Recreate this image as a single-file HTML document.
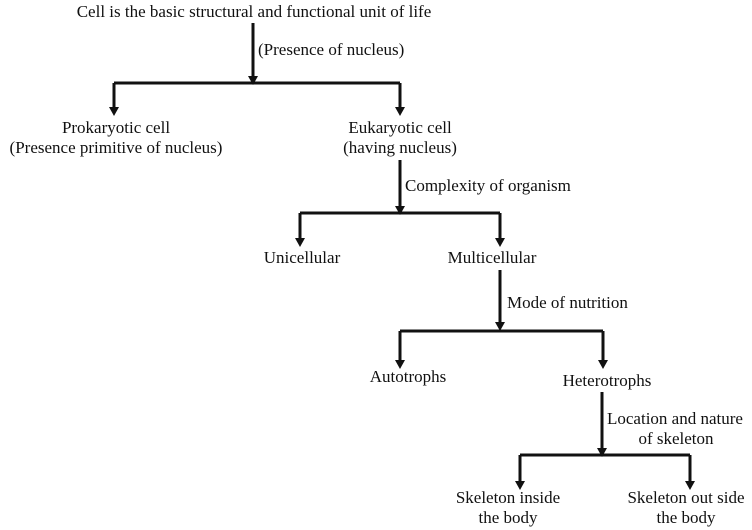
<!DOCTYPE html>
<html><head><meta charset="utf-8"><style>
html,body{margin:0;padding:0;background:#fff;width:752px;height:530px;overflow:hidden}
svg{display:block}
text{font-family:"Liberation Serif",serif;font-size:17px;fill:#111;letter-spacing:0px}
</style></head><body>
<svg width="752" height="530" viewBox="0 0 752 530">
<g stroke="#111" stroke-width="3" fill="none">
<path d="M253,23 V78"/>
<path d="M114,83 H400"/>
<path d="M114,83 V109"/><path d="M400,83 V109"/>
<path d="M400,160 V208"/>
<path d="M300,213 H500"/>
<path d="M300,213 V240"/><path d="M500,213 V240"/>
<path d="M500,270 V324"/>
<path d="M400,331 H603"/>
<path d="M400,331 V362"/><path d="M603,331 V362"/>
<path d="M602,392 V450"/>
<path d="M520,455 H690"/>
<path d="M520,455 V483"/><path d="M690,455 V483"/>
</g>
<g fill="#111">
<path d="M248,76 L258,76 L253,85 Z"/>
<path d="M109,107 L119,107 L114,116 Z"/><path d="M395,107 L405,107 L400,116 Z"/>
<path d="M395,206 L405,206 L400,215 Z"/>
<path d="M295,238 L305,238 L300,247 Z"/><path d="M495,238 L505,238 L500,247 Z"/>
<path d="M495,322 L505,322 L500,331 Z"/>
<path d="M395,360 L405,360 L400,369 Z"/><path d="M598,360 L608,360 L603,369 Z"/>
<path d="M597,448 L607,448 L602,457 Z"/>
<path d="M515,481 L525,481 L520,490 Z"/><path d="M685,481 L695,481 L690,490 Z"/>
</g>
<g text-anchor="middle">
<text x="254" y="17">Cell is the basic structural and functional unit of life</text>
<text x="116" y="133">Prokaryotic cell</text>
<text x="116" y="153">(Presence primitive of nucleus)</text>
<text x="400" y="133">Eukaryotic cell</text>
<text x="400" y="153">(having nucleus)</text>
<text x="302" y="263">Unicellular</text>
<text x="492" y="263">Multicellular</text>
<text x="408" y="382">Autotrophs</text>
<text x="607" y="386">Heterotrophs</text>
<text x="508" y="503">Skeleton inside</text>
<text x="508" y="523">the body</text>
<text x="686" y="503">Skeleton out side</text>
<text x="686" y="523">the body</text>
<text x="676" y="444">of skeleton</text>
</g>
<text x="258" y="55">(Presence of nucleus)</text>
<text x="405" y="191">Complexity of organism</text>
<text x="507" y="308">Mode of nutrition</text>
<text x="607" y="424">Location and nature</text>
</svg>
</body></html>
